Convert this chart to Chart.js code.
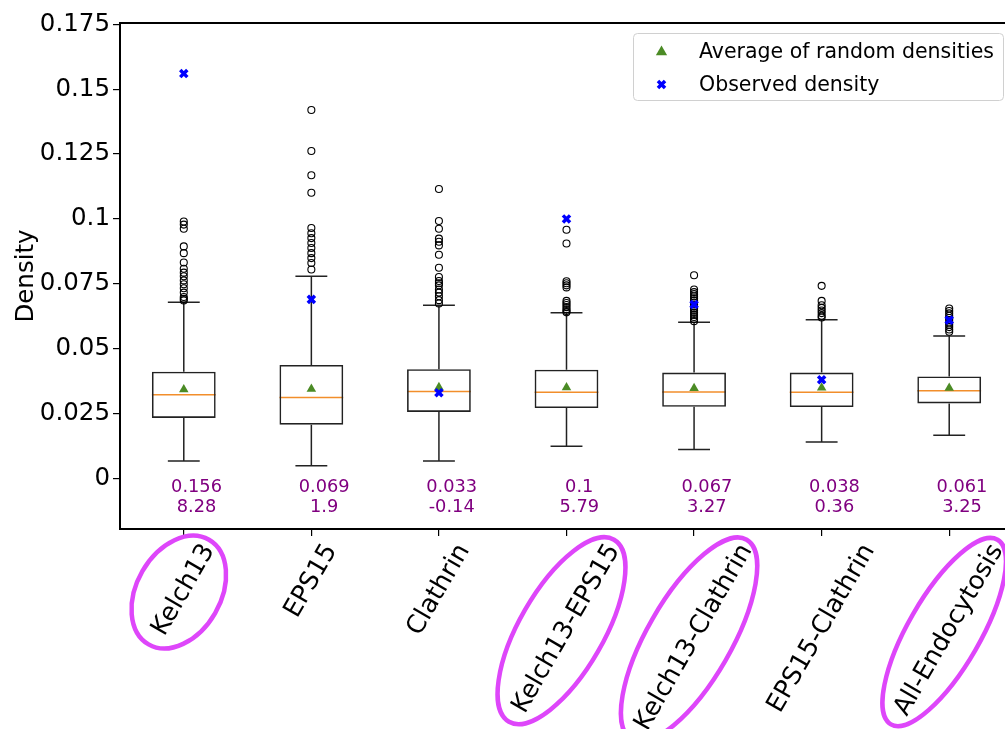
<!DOCTYPE html>
<html>
<head>
<meta charset="utf-8">
<script src="https://cdn.jsdelivr.net/npm/chart.js@4.4.1/dist/chart.umd.min.js"></script>
<style>
  html, body { margin: 0; padding: 0; background: #fff; overflow: hidden; }
  #wrap { position: relative; width: 1030px; height: 729px; }
</style>
</head>
<body>
<div id="wrap"><canvas id="chart"></canvas></div>
<script>
// Density of random sets vs observed density, per protein group (box plots)
const categories = ['Kelch13', 'EPS15', 'Clathrin', 'Kelch13-EPS15', 'Kelch13-Clathrin', 'EPS15-Clathrin', 'All-Endocytosis'];
const highlighted = ['Kelch13', 'Kelch13-EPS15', 'Kelch13-Clathrin', 'All-Endocytosis'];

const q1 = [0.0233, 0.0207, 0.0256, 0.0271, 0.0276, 0.0275, 0.0289];
const medians = [0.0322, 0.0312, 0.0335, 0.0332, 0.0333, 0.0332, 0.0338];
const q3 = [0.0411, 0.0437, 0.0421, 0.0419, 0.0408, 0.0408, 0.0393];
const whiskerLow = [0.0067, 0.0049, 0.0067, 0.0124, 0.0111, 0.0140, 0.0166];
const whiskerHigh = [0.0679, 0.0779, 0.0667, 0.0638, 0.0602, 0.0611, 0.0549];
const means = [0.0343, 0.0345, 0.0351, 0.0350, 0.0347, 0.0349, 0.0348];
const observed = [0.156, 0.069, 0.033, 0.1, 0.067, 0.038, 0.061];

const observedLabels = ['0.156', '0.069', '0.033', '0.1', '0.067', '0.038', '0.061'];
const zScores = ['8.28', '1.9', '-0.14', '5.79', '3.27', '0.36', '3.25'];

const outliers = [
  [0.0990, 0.0978, 0.0962, 0.0894, 0.0868, 0.0832, 0.0808, 0.0793, 0.0779, 0.0763, 0.0748, 0.0733, 0.0716, 0.0699, 0.0692, 0.0686],
  [0.1420, 0.1262, 0.1168, 0.1101, 0.0965, 0.0945, 0.0926, 0.0907, 0.0888, 0.0868, 0.0849, 0.0830, 0.0805],
  [0.1115, 0.0992, 0.0962, 0.0924, 0.0912, 0.0898, 0.0862, 0.0812, 0.0776, 0.0761, 0.0752, 0.0744, 0.0728, 0.0716, 0.0702, 0.0687, 0.0674],
  [0.0958, 0.0905, 0.0760, 0.0752, 0.0744, 0.0736, 0.0684, 0.0676, 0.0668, 0.0660, 0.0652, 0.0645, 0.0640],
  [0.0783, 0.0728, 0.0718, 0.0710, 0.0702, 0.0694, 0.0686, 0.0678, 0.0670, 0.0662, 0.0654, 0.0646, 0.0638, 0.0630, 0.0622, 0.0614, 0.0606],
  [0.0742, 0.0684, 0.0667, 0.0657, 0.0647, 0.0637, 0.0627, 0.0620],
  [0.0655, 0.0645, 0.0636, 0.0627, 0.0618, 0.0610, 0.0601, 0.0592, 0.0583, 0.0574, 0.0565]
];

const yTicks = [0, 0.025, 0.05, 0.075, 0.1, 0.125, 0.15, 0.175];
const yTickLabels = ['0', '0.025', '0.05', '0.075', '0.1', '0.125', '0.15', '0.175'];

const FONT = 'DejaVu Sans';
const PURPLE = '#800080';
const MAGENTA = '#de46fa';
const GREEN = '#4b8b25';
const XLABEL_SIZE = 25.5;

Chart.defaults.font.family = FONT;
Chart.defaults.color = '#000';

// whiskers, caps and medians, from the scales (boxes themselves are a floating bar dataset)
const boxParts = {
  id: 'boxParts',
  beforeDatasetsDraw(chart) {
    const { ctx, scales: { x, y } } = chart;
    const half = Math.abs(x.getPixelForValue(0.25) - x.getPixelForValue(0));
    const cap = half / 2;
    ctx.save();
    categories.forEach((c, i) => {
      const cx = x.getPixelForValue(i + 1);
      ctx.strokeStyle = '#222';
      ctx.lineWidth = 1.5;
      ctx.beginPath();
      ctx.moveTo(cx, y.getPixelForValue(q3[i]));
      ctx.lineTo(cx, y.getPixelForValue(whiskerHigh[i]));
      ctx.moveTo(cx, y.getPixelForValue(q1[i]));
      ctx.lineTo(cx, y.getPixelForValue(whiskerLow[i]));
      ctx.moveTo(cx - cap, y.getPixelForValue(whiskerHigh[i]));
      ctx.lineTo(cx + cap, y.getPixelForValue(whiskerHigh[i]));
      ctx.moveTo(cx - cap, y.getPixelForValue(whiskerLow[i]));
      ctx.lineTo(cx + cap, y.getPixelForValue(whiskerLow[i]));
      ctx.stroke();
      ctx.strokeStyle = '#f28e2b';
      ctx.beginPath();
      ctx.moveTo(cx - half, y.getPixelForValue(medians[i]));
      ctx.lineTo(cx + half, y.getPixelForValue(medians[i]));
      ctx.stroke();
    });
    ctx.restore();
  }
};

// top spine, value annotations, rotated category labels with ellipses, legend
const decorations = {
  id: 'decorations',
  afterDraw(chart) {
    const { ctx, chartArea: a, scales: { x, y } } = chart;
    ctx.save();

    ctx.strokeStyle = '#000';
    ctx.lineWidth = 2;
    ctx.beginPath();
    ctx.moveTo(a.left - 1, a.top);
    ctx.lineTo(a.right, a.top);
    ctx.stroke();

    // observed value and z-score under each box
    ctx.fillStyle = PURPLE;
    ctx.font = `17.8px ${FONT}`;
    ctx.textAlign = 'center';
    ctx.textBaseline = 'middle';
    categories.forEach((c, i) => {
      const tx = x.getPixelForValue(i + 1.1);
      ctx.fillText(observedLabels[i], tx, y.getPixelForValue(-0.0033));
      ctx.fillText(zScores[i], tx, y.getPixelForValue(-0.0110));
    });

    // x labels rotated 60deg, centred under the tick
    const ang = Math.PI / 3;
    ctx.font = `${XLABEL_SIZE}px ${FONT}`;
    categories.forEach((c, i) => {
      const tx = x.getPixelForValue(i + 1);
      const L = ctx.measureText(c).width;
      const cy = a.bottom + 11 + (L * Math.sin(ang) + XLABEL_SIZE * Math.cos(ang)) / 2;
      ctx.save();
      ctx.translate(tx, cy);
      ctx.rotate(-ang);
      ctx.fillStyle = '#000';
      ctx.fillText(c, 0, 0);
      ctx.restore();
      if (highlighted.includes(c)) {
        ctx.save();
        ctx.strokeStyle = MAGENTA;
        ctx.lineWidth = 4.5;
        ctx.beginPath();
        ctx.ellipse(tx - 5, cy + 2, L / 2 + 10, c === 'All-Endocytosis' ? 36 : 42, -ang, 0, Math.PI * 2);
        ctx.stroke();
        ctx.restore();
      }
    });

    // legend in the upper right of the plot
    const lw = 370, lh = 67;
    const lx = a.right - 10 - lw, ly = a.top + 10;
    ctx.fillStyle = 'rgba(255,255,255,0.8)';
    ctx.strokeStyle = '#d0d0d0';
    ctx.lineWidth = 1;
    ctx.beginPath();
    ctx.roundRect(lx + 0.5, ly + 0.5, lw, lh, 4);
    ctx.fill();
    ctx.stroke();
    const rows = [
      { text: 'Average of random densities', style: 'triangle', color: GREEN, bw: 0, r: 6.5 },
      { text: 'Observed density', style: 'crossRot', color: 'blue', bw: 3.5, r: 5 }
    ];
    ctx.font = `20.5px ${FONT}`;
    ctx.textAlign = 'left';
    rows.forEach((row, k) => {
      const ry = ly + 19 + k * 32.5;
      ctx.save();
      ctx.fillStyle = row.color;
      ctx.strokeStyle = row.color;
      ctx.lineWidth = row.bw;
      Chart.helpers.drawPoint(ctx, { pointStyle: row.style, radius: row.r, borderWidth: row.bw, rotation: 0 }, lx + 28.5, ry);
      ctx.restore();
      ctx.fillStyle = '#000';
      ctx.fillText(row.text, lx + 66, ry + 1);
    });
    ctx.restore();
  }
};

new Chart(document.getElementById('chart'), {
  type: 'bar',
  data: {
    datasets: [
      {
        label: 'Box',
        data: categories.map((c, i) => ({ x: i + 1, y: [q1[i], q3[i]] })),
        backgroundColor: 'rgba(0,0,0,0)',
        borderColor: '#222',
        borderWidth: 1.6,
        borderSkipped: false,
        barPercentage: 0.5,
        categoryPercentage: 1,
        order: 4
      },
      {
        type: 'scatter',
        label: 'Outliers',
        data: outliers.flatMap((vals, i) => vals.map(v => ({ x: i + 1, y: v }))),
        pointStyle: 'circle',
        pointRadius: 3.5,
        backgroundColor: 'rgba(0,0,0,0)',
        borderColor: '#000',
        borderWidth: 1.1,
        order: 3
      },
      {
        type: 'scatter',
        label: 'Average of random densities',
        data: means.map((v, i) => ({ x: i + 1, y: v })),
        pointStyle: 'triangle',
        pointRadius: 5.5,
        backgroundColor: GREEN,
        borderWidth: 0,
        order: 2
      },
      {
        type: 'scatter',
        label: 'Observed density',
        data: observed.map((v, i) => ({ x: i + 1, y: v })),
        pointStyle: 'crossRot',
        pointRadius: 5,
        borderColor: 'blue',
        borderWidth: 3.5,
        order: 1
      }
    ]
  },
  options: {
    responsive: true,
    maintainAspectRatio: false,
    animation: false,
    events: [],
    layout: { padding: { top: 23, right: 17, left: 0, bottom: 0 } },
    plugins: { legend: { display: false }, tooltip: { enabled: false } },
    scales: {
      x: {
        type: 'linear',
        min: 0.5,
        max: 7.5,
        bounds: 'data',
        offset: false,
        afterBuildTicks: s => { s.ticks = categories.map((c, i) => ({ value: i + 1 })); },
        afterFit: s => { s.height = 200; },
        ticks: { callback: () => '', font: { size: 10 } },
        grid: { display: true, drawOnChartArea: false, drawTicks: true, tickLength: 7, color: '#000', lineWidth: 1.2, offset: false },
        border: { display: true, color: '#000', width: 2 }
      },
      y: {
        type: 'linear',
        min: -0.0195,
        max: 0.1755,
        bounds: 'data',
        afterBuildTicks: s => { s.ticks = yTicks.map(v => ({ value: v })); },
        afterFit: s => { s.width = 120; },
        ticks: {
          callback: (v, i) => yTickLabels[i],
          font: { size: 24.5 },
          color: '#000',
          padding: 3
        },
        grid: { display: true, drawOnChartArea: false, drawTicks: true, tickLength: 7, color: '#000', lineWidth: 1.2 },
        border: { display: true, color: '#000', width: 2 },
        title: { display: true, text: 'Density', font: { size: 24.5 }, color: '#000', padding: { top: 12, bottom: 0 } }
      }
    }
  },
  plugins: [boxParts, decorations]
});
</script>
</body>
</html>
